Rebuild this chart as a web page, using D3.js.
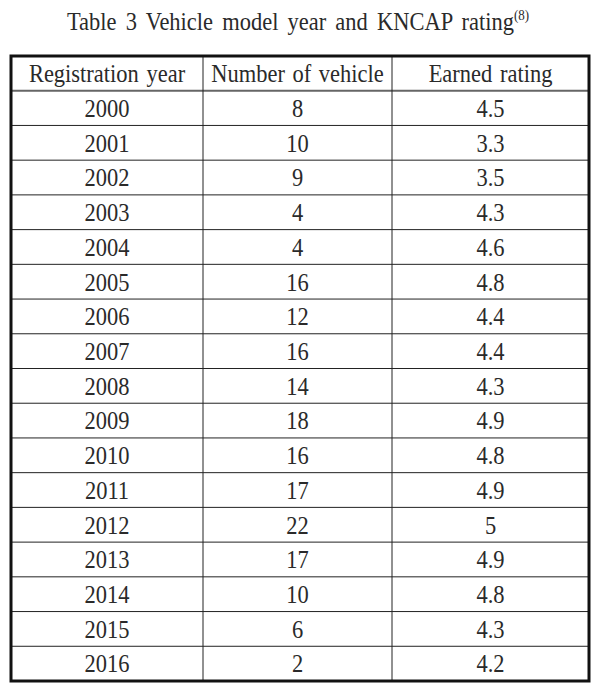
<!DOCTYPE html>
<html lang="en">
<head>
	<meta charset="UTF-8">
	<title>Vehicle model year and KNCAP rating</title>
	<script src="https://d3js.org/d3.v7.min.js"></script>
	<style>
		body, html {
			margin: 0;
			padding: 0;
			background: #fff;
			overflow: hidden;
		}
		svg { display: block; }
		.cell-text {
			font-family: "Liberation Serif", "DejaVu Serif", serif;
			font-size: 22.5px;
			fill: #2a2a2a;
			text-anchor: middle;
			word-spacing: 2px;
		}
		.title {
			font-family: "Liberation Serif", "DejaVu Serif", serif;
			font-size: 22.5px;
			fill: #2a2a2a;
			text-anchor: middle;
			word-spacing: 3.5px;
		}
	</style>
</head>
<body>
<div id="table-container"></div>
	<script>
		// Table data
		const headers = ["Registration year", "Number of vehicle", "Earned rating"];
		const years = ["2000", "2001", "2002", "2003", "2004", "2005", "2006", "2007", "2008",
			"2009", "2010", "2011", "2012", "2013", "2014", "2015", "2016"];
		const vehicleCounts = ["8", "10", "9", "4", "4", "16", "12", "16", "14",
			"18", "16", "17", "22", "17", "10", "6", "2"];
		const ratings = ["4.5", "3.3", "3.5", "4.3", "4.6", "4.8", "4.4", "4.4", "4.3",
			"4.9", "4.8", "4.9", "5", "4.9", "4.8", "4.3", "4.2"];

		const width = 601;
		const height = 686;
		const stretchY = 1.12; // glyphs in the source are a little taller than Liberation Serif

		const svg = d3.select("#table-container")
			.append("svg")
			.attr("width", width)
			.attr("height", height);

		// Title with superscript reference
		const title = svg.append("text")
			.attr("class", "title")
			.attr("transform", `translate(298,30) scale(1,${stretchY})`);
		title.append("tspan").text("Table 3 Vehicle model year and KNCAP rating");
		title.append("tspan")
			.attr("dy", -9)
			.attr("font-size", 13)
			.text("(8)");

		// rows: header + data
		const rows = [headers].concat(years.map((yr, i) => [yr, vehicleCounts[i], ratings[i]]));

		const tblLeft = 11, tblRight = 589, tblTop = 56, tblBottom = 681;
		const colEdges = [tblLeft, 203, 392, tblRight];

		const y = d3.scaleBand()
			.domain(d3.range(rows.length))
			.range([tblTop, tblBottom]);

		const g = svg.append("g");

		// horizontal row separators
		g.selectAll(".hline")
			.data(d3.range(1, rows.length))
			.enter()
			.append("line")
			.attr("x1", tblLeft)
			.attr("x2", tblRight)
			.attr("y1", d => y(d))
			.attr("y2", d => y(d))
			.attr("stroke", d => d === 1 ? "#666" : "#222")
			.attr("stroke-width", d => d === 1 ? 2 : 1);

		// vertical column separators
		g.selectAll(".vline")
			.data(colEdges.slice(1, -1))
			.enter()
			.append("line")
			.attr("x1", d => d)
			.attr("x2", d => d)
			.attr("y1", tblTop)
			.attr("y2", tblBottom)
			.attr("stroke", "#222")
			.attr("stroke-width", 1);

		// outer border
		g.append("rect")
			.attr("x", tblLeft)
			.attr("y", tblTop)
			.attr("width", tblRight - tblLeft)
			.attr("height", tblBottom - tblTop)
			.attr("fill", "none")
			.attr("stroke", "#111")
			.attr("stroke-width", 3);

		// cell texts
		rows.forEach((row, r) => {
			g.selectAll(".row-" + r)
				.data(row)
				.enter()
				.append("text")
				.attr("class", "cell-text")
				.attr("transform", (d, c) =>
					`translate(${(colEdges[c] + colEdges[c + 1]) / 2},${y(r) + y.bandwidth() / 2}) scale(1,${stretchY})`)
				.attr("dy", "0.35em")
				.text(d => d);
		});
	</script>
</body>
</html>
